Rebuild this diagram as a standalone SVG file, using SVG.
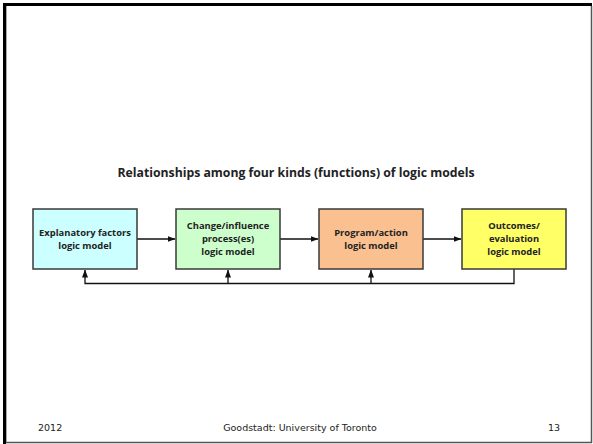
<svg xmlns="http://www.w3.org/2000/svg" width="593" height="444" viewBox="0 0 593 444">
<style>
.box{stroke:#3a3a3a;stroke-width:1.5}
.bt{font-family:"Open Sans","Liberation Sans",sans-serif;font-weight:bold;font-size:9.4px;fill:#222;text-anchor:middle}
.con{stroke:#111;stroke-width:1.3;fill:none}
.ft{font-family:"DejaVu Sans",Verdana,sans-serif;font-size:9.5px;fill:#222}
</style>
<defs>
<marker id="ah" markerWidth="8" markerHeight="6" refX="7.5" refY="3" orient="auto" markerUnits="userSpaceOnUse">
<path d="M0,0 L8,3 L0,6 z" fill="#111"/>
</marker>
</defs>
<rect x="0" y="0" width="593" height="444" fill="#fff"/>
<line x1="4.5" y1="3" x2="4.5" y2="444" stroke="#000" stroke-width="3"/>
<line x1="3" y1="4.5" x2="592" y2="4.5" stroke="#000" stroke-width="3"/>
<line x1="6.5" y1="6" x2="6.5" y2="442" stroke="#aaa" stroke-width="1"/>
<line x1="591.5" y1="6" x2="591.5" y2="443" stroke="#555" stroke-width="1.5"/>
<line x1="6" y1="442.5" x2="592" y2="442.5" stroke="#555" stroke-width="1.5"/>
<text x="296" y="177" font-family="Open Sans,Liberation Sans,sans-serif" font-weight="bold" font-size="12" fill="#222" text-anchor="middle" textLength="357" lengthAdjust="spacingAndGlyphs">Relationships among four kinds (functions) of logic models</text>
<g id="connectors">
<line class="con" x1="137" y1="239" x2="175" y2="239" marker-end="url(#ah)"/>
<line class="con" x1="280" y1="239" x2="318" y2="239" marker-end="url(#ah)"/>
<line class="con" x1="423" y1="239" x2="461" y2="239" marker-end="url(#ah)"/>
<polyline class="con" points="514,269 514,283.5 85,283.5 85,270" marker-end="url(#ah)"/>
<line class="con" x1="228" y1="283.5" x2="228" y2="270" marker-end="url(#ah)"/>
<line class="con" x1="371" y1="283.5" x2="371" y2="270" marker-end="url(#ah)"/>
</g>
<g id="n1">
<rect class="box" x="33" y="209" width="104" height="60" fill="#ccffff"/>
<text class="bt" x="85" y="236">Explanatory factors</text>
<text class="bt" x="85" y="249">logic model</text>
</g>
<g id="n2">
<rect class="box" x="176" y="209" width="104" height="60" fill="#ccffcc"/>
<text class="bt" x="228" y="229">Change/influence</text>
<text class="bt" x="228" y="242">process(es)</text>
<text class="bt" x="228" y="255">logic model</text>
</g>
<g id="n3">
<rect class="box" x="319" y="209" width="104" height="60" fill="#fac090"/>
<text class="bt" x="371" y="236">Program/action</text>
<text class="bt" x="371" y="249">logic model</text>
</g>
<g id="n4">
<rect class="box" x="462" y="209" width="104" height="60" fill="#ffff66"/>
<text class="bt" x="514" y="229">Outcomes/</text>
<text class="bt" x="514" y="242">evaluation</text>
<text class="bt" x="514" y="255">logic model</text>
</g>
<text class="ft" x="38" y="431">2012</text>
<text class="ft" x="300" y="431" text-anchor="middle">Goodstadt: University of Toronto</text>
<text class="ft" x="548" y="431">13</text>
</svg>
